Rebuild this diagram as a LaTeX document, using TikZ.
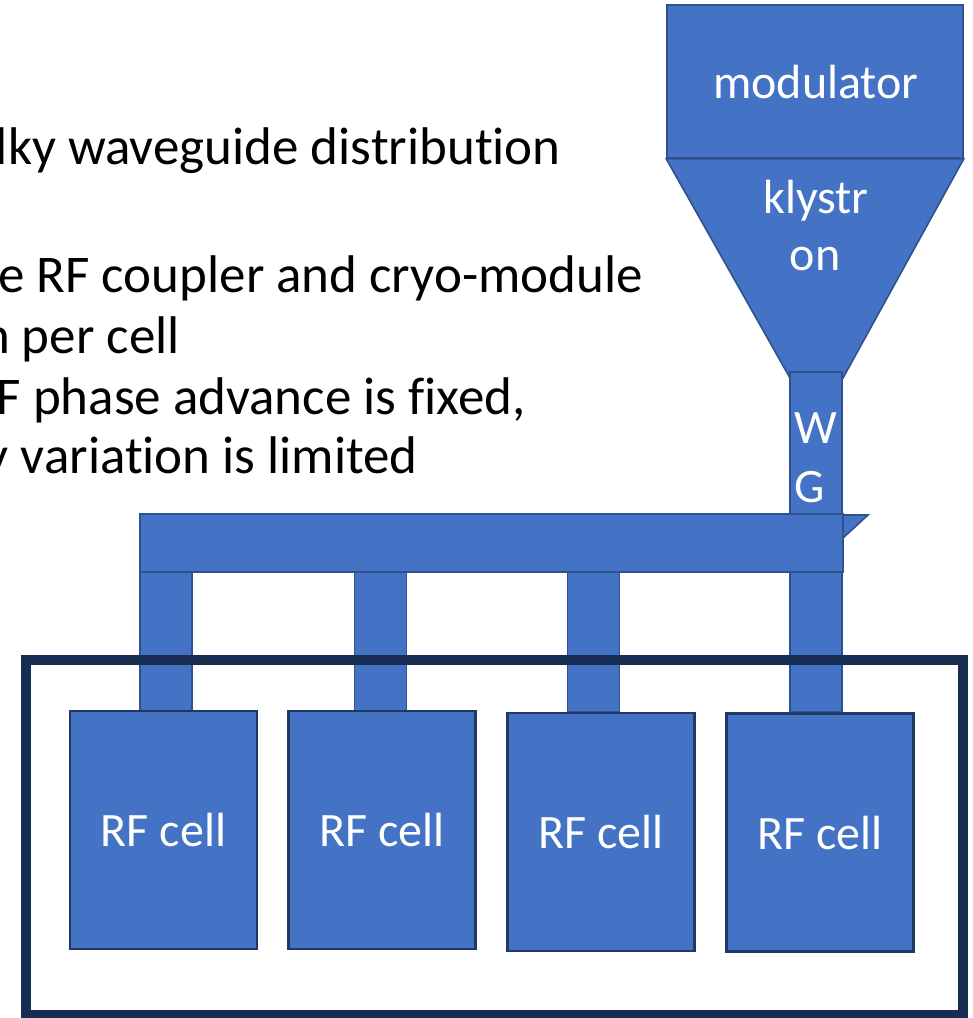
\documentclass[tikz,border=0pt]{standalone}
\usepackage{fontspec}
\setmainfont[Ligatures={NoCommon}]{Carlito}
\definecolor{fillb}{HTML}{4472C4}
\definecolor{edgeb}{HTML}{2F528F}
\definecolor{edgec}{HTML}{1F3864}
\definecolor{navy}{HTML}{172C51}
\tikzset{
  wgpart/.style={fill=fillb, draw=edgeb, line width=1.6pt, inner sep=0pt},
  cellbox/.style={fill=fillb, draw=edgec, line width=2.4pt, minimum width=187pt, minimum height=238pt, inner sep=0pt, text=white, font=\fontsize{48}{58}\selectfont},
  inlbl/.style={text=white, inner sep=0pt, anchor=base, font=\fontsize{48}{58}\selectfont},
  note/.style={inner sep=0pt, anchor=base east, font=\fontsize{53}{60}\selectfont},
  stub/.style={wgpart, minimum width=52pt, minimum height=140pt}
}
\begin{document}
\begin{tikzpicture}[x=1pt,y=-1pt]
\useasboundingbox (0,0) rectangle (973,1018);
\clip (0,0) rectangle (973,1018);
% text at left
\node[note] (t1) at (561,164) {lky waveguide distribution};
\node[note] (t2) at (643,292) {e RF coupler and cryo-module};
\node[note] (t3) at (180,353) {n per cell};
\node[note] (t4) at (526,414) {F phase advance is fixed,};
\node[note] (t5) at (418,473) {y variation is limited};
% modulator and klystron
\node[wgpart, minimum width=296pt, minimum height=153pt] (mod) at (815,81.5) {};
\node[inlbl] (modl) at (816,98) {modulator};
\coordinate (kl) at (790,378);
\coordinate (kr) at (843,378);
\draw[wgpart] (mod.south west) -- (mod.south east) -- (kr) -- (kl) -- cycle;
\node[inlbl] (kly1) at (816,213) {klystr};
\node[inlbl] (kly2) at (815,270) {on};
% waveguide
\node[wgpart, minimum width=52pt, minimum height=142pt] (wg) at (816,443) {};
\coordinate (n1) at (843,515);
\coordinate (n2) at (868,515);
\coordinate (n3) at (843,538);
\draw[wgpart] (n1) -- (n2) -- (n3) -- cycle;
% stubs
\node[stub] (s1) at (166,642) {};
\node[stub] (s2) at (380.5,642) {};
\node[stub] (s3) at (593.5,642) {};
\node[stub] (s4) at (816,642) {};
% bar
\node[wgpart, minimum width=703pt, minimum height=58pt] (bar) at (491.5,543) {};
\node[inlbl] (wgW) at (816,443) {W};
\node[inlbl] (wgG) at (810,502) {G};
% cryo box
\node[draw=navy, line width=10pt, minimum width=937pt, minimum height=355pt, inner sep=0pt] (cryo) at (494.5,837.5) {};
% cells
\node[cellbox] (c1) at (163.5,830) {RF cell};
\node[cellbox] (c2) at (382,830) {RF cell};
\node[cellbox] (c3) at (601,832) {RF cell};
\node[cellbox] (c4) at (820,832.5) {RF cell};
\end{tikzpicture}
\end{document}
